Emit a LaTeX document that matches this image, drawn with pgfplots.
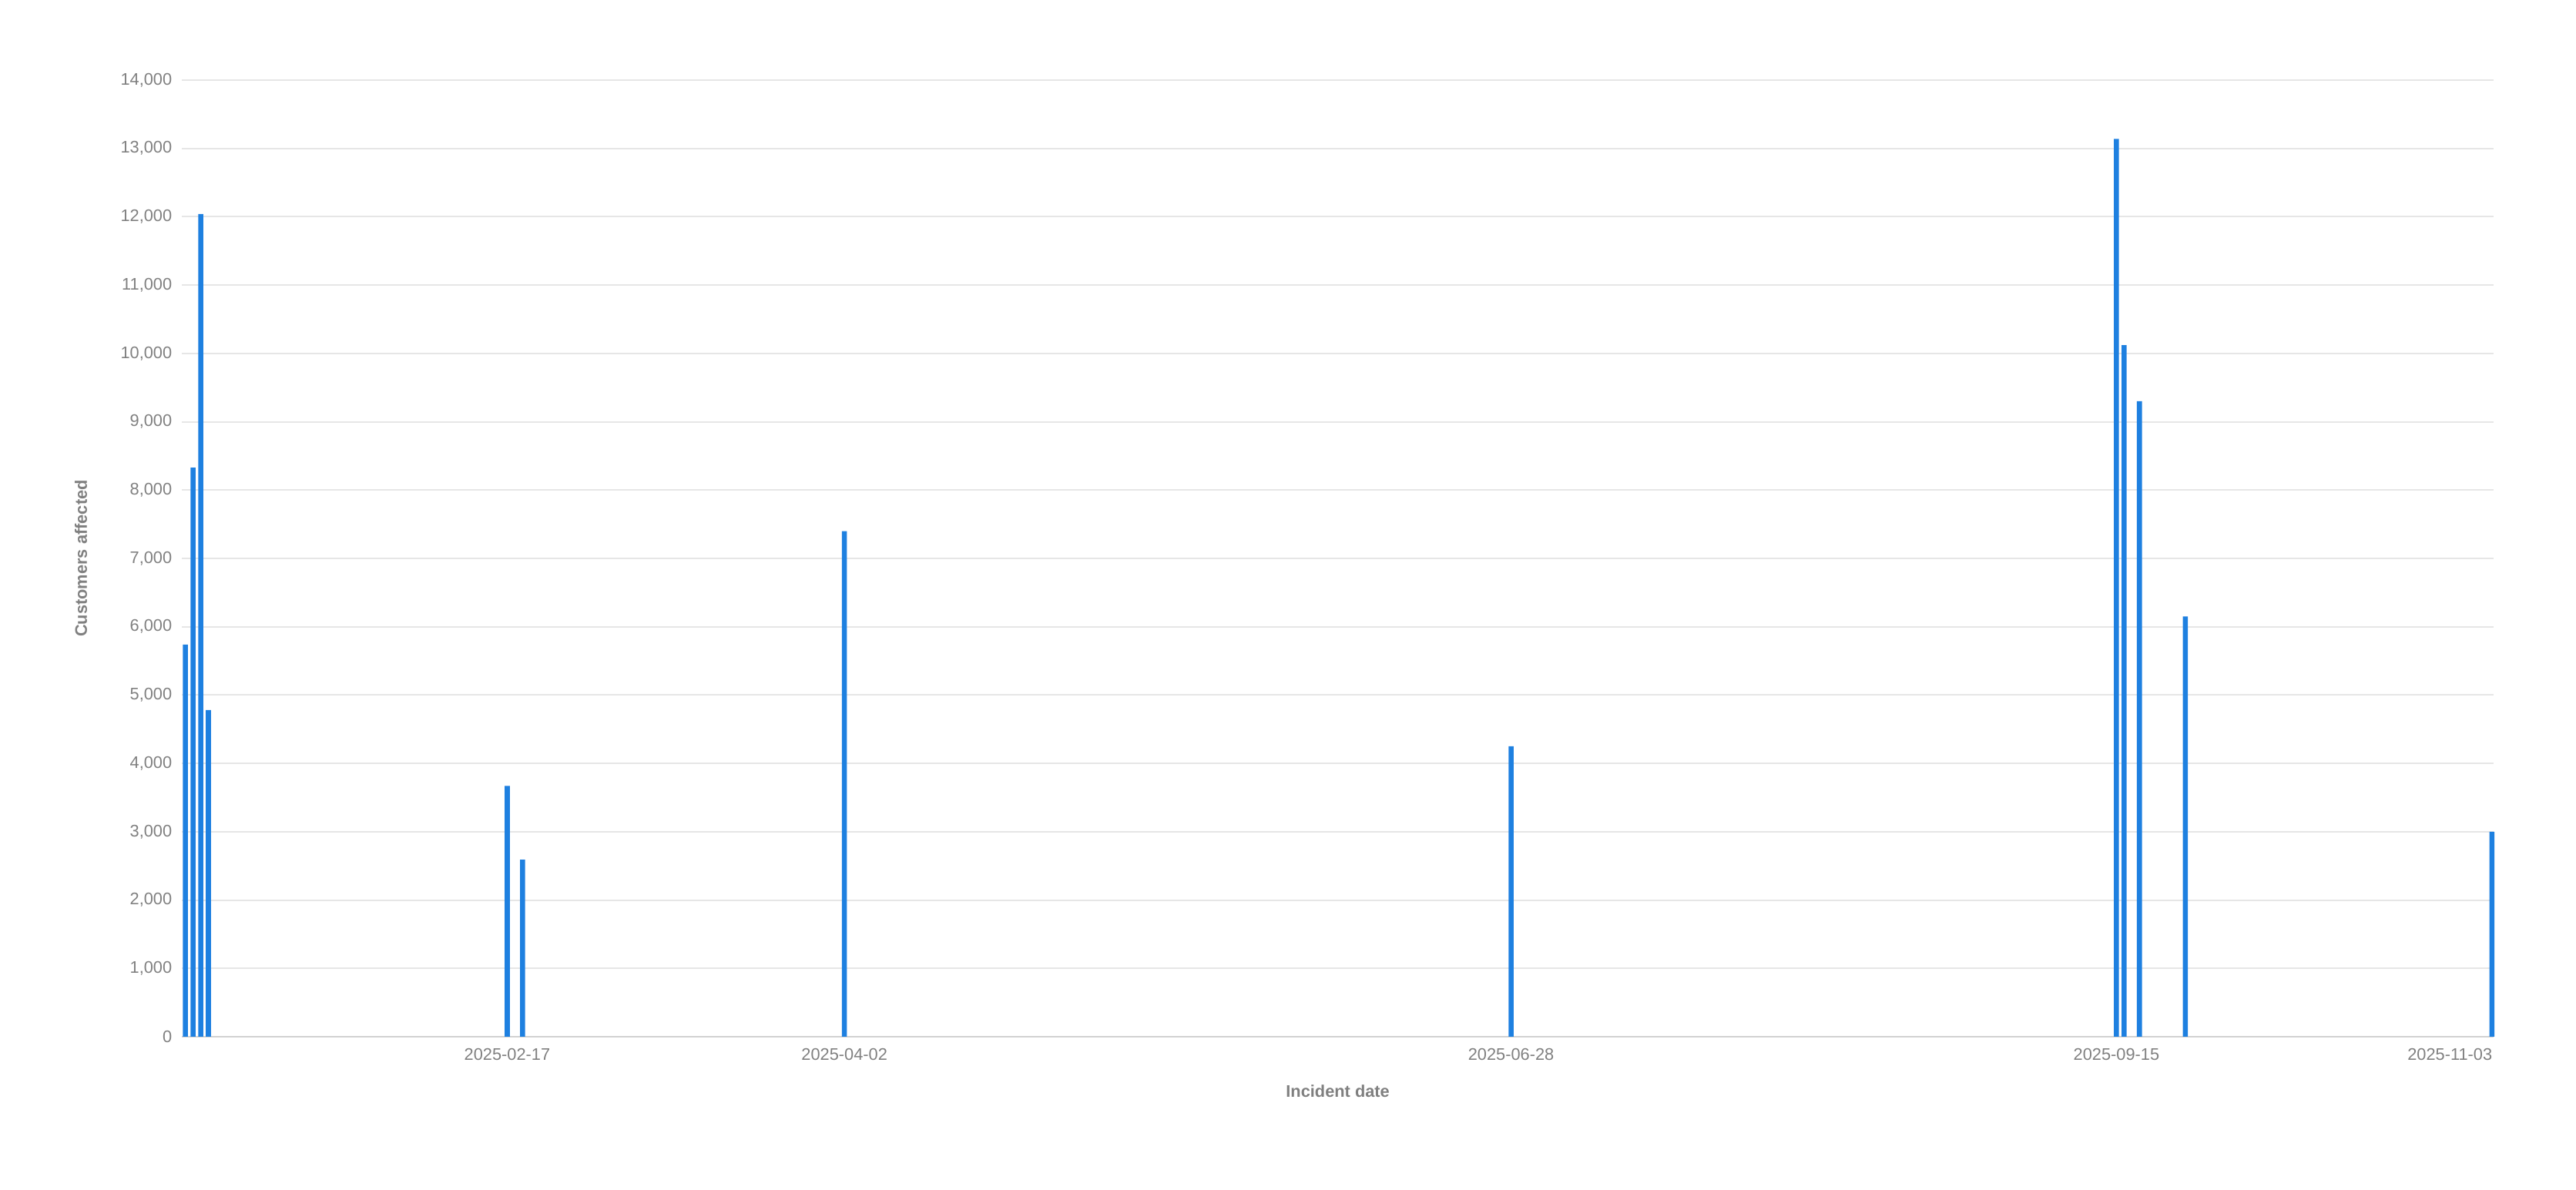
\documentclass[border=0pt]{standalone}
\usepackage{fontspec}
\setmainfont{Liberation Sans}
\usepackage{pgfplots}
\pgfplotsset{compat=1.18}

\definecolor{barblue}{HTML}{1E80E0}
\definecolor{txtgray}{HTML}{808080}
\definecolor{gridgray}{HTML}{E6E6E6}
\definecolor{basegray}{HTML}{D2D2D2}

\begin{document}
\begin{tikzpicture}
% page = 3344x1544 px at 0.25pt per px
\useasboundingbox (0,0) rectangle (836pt,386pt);
\begin{axis}[
  at={(59.1pt,49.5pt)}, anchor=south west,
  scale only axis, width=750.1pt, height=310.5pt,
  xmin=4.57, xmax=306.2, ymin=0, ymax=14000,
  clip=false,
  axis lines*=left,
  y axis line style={draw=none},
  x axis line style={basegray, line width=0.5pt},
  major tick length=0pt,
  ymajorgrids,
  grid style={gridgray, line width=0.5pt},
  ytick={0,1000,...,14000},
  scaled y ticks=false,
  /pgf/number format/1000 sep={,},
  /pgf/number format/assume math mode=true,
  % days counted from 2025-01-01 = 0
  xtick={47,91,178,257},
  xticklabels={2025-02-17,2025-04-02,2025-06-28,2025-09-15},
  extra x ticks={306},
  extra x tick labels={2025-11-03},
  extra x tick style={xticklabel style={anchor=north east, xshift=0.3pt}},
  tick label style={font=\fontsize{5.45}{6.5}\selectfont, text=txtgray, inner sep=0pt},
  yticklabel style={anchor=east, xshift=-3.1pt},
  xticklabel style={anchor=north, yshift=-3.5pt},
  xlabel={Incident date},
  ylabel={Customers affected},
  every axis x label/.style={at={(axis description cs:0.5,-0.057)}, anchor=center,
    font=\bfseries\fontsize{5.45}{6.5}\selectfont, text=txtgray},
  every axis y label/.style={at={(axis description cs:-0.0438,0.5)}, anchor=center, rotate=90,
    font=\bfseries\fontsize{5.45}{6.5}\selectfont, text=txtgray},
]

\addplot[ybar, bar width=1.65pt, bar shift=0pt, fill=barblue, draw=none] coordinates {
  (5,5740) (6,8330) (7,12040) (8,4780)
  (47,3670) (49,2590)
  (91,7400)
  (178,4250)
  (257,13140) (258,10120) (260,9300) (266,6150)
  (306,3000)
};

\end{axis}
\end{tikzpicture}
\end{document}
